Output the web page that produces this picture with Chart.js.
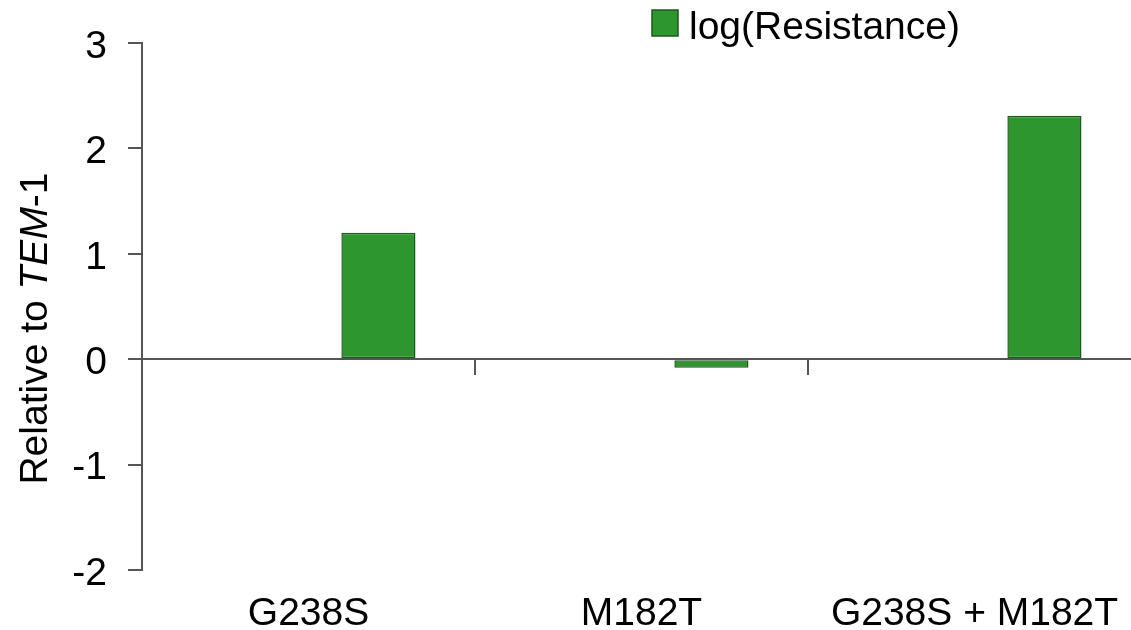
<!DOCTYPE html>
<html>
<head>
<meta charset="utf-8">
<script src="https://cdn.jsdelivr.net/npm/chart.js@4.4.0/dist/chart.umd.min.js"></script>
<style>
    html, body { margin: 0; padding: 0; background: #fff; overflow: hidden; }
    #wrap { width: 1141px; height: 630px; }
</style>
</head>
<body>
<div id="wrap"><canvas id="resChart"></canvas></div>
<script>
const categories = ['G238S', 'M182T', 'G238S + M182T'];
const emptySeries = [null, null, null]; // first series slot is empty in the figure
const logResistance = [1.2, -0.08, 2.31];
const yTicks = [-2, -1, 0, 1, 2, 3];

const fontFamily = '"Liberation Sans", Arial, sans-serif';
const fontSize = 39;
const axisColor = '#555';

// legend box and rotated y title (with italic TEM)
const extras = {
    id: 'extras',
    afterDraw(chart) {
        const c = chart.ctx;
        const ds = chart.data.datasets[1];
        c.save();
        c.fillStyle = ds.backgroundColor;
        c.strokeStyle = ds.borderColor;
        c.lineWidth = 1.5;
        c.fillRect(652, 10, 26, 26);
        c.strokeRect(652, 10, 26, 26);
        c.fillStyle = '#000';
        c.font = fontSize + 'px ' + fontFamily;
        c.textBaseline = 'alphabetic';
        c.fillText(ds.label, 689, 38.5);

        const parts = [['Relative to ', ''], ['TEM', 'italic '], ['-1', '']];
        let total = 0;
        parts.forEach(p => {
            c.font = p[1] + fontSize + 'px ' + fontFamily;
            total += c.measureText(p[0]).width;
        });
        c.translate(46.5, 328.5);
        c.rotate(-Math.PI / 2);
        let x = -total / 2;
        parts.forEach(p => {
            c.font = p[1] + fontSize + 'px ' + fontFamily;
            c.fillText(p[0], x, 0);
            x += c.measureText(p[0]).width;
        });
        c.restore();
    }
};

const ctx = document.getElementById('resChart').getContext('2d');
const resChart = new Chart(ctx, {
    type: 'bar',
    data: {
        labels: categories,
        datasets: [
            {
                label: '',
                data: emptySeries,
                backgroundColor: 'transparent'
            },
            {
                label: 'log(Resistance)',
                data: logResistance,
                backgroundColor: '#2e962e',
                borderColor: '#1e5a1e',
                borderWidth: 1.5,
                borderSkipped: false
            }
        ]
    },
    options: {
        responsive: true,
        maintainAspectRatio: false,
        animation: false,
        categoryPercentage: 0.84,
        barPercentage: 0.53,
        layout: { padding: { top: 43, left: 73, right: 0, bottom: 0 } },
        plugins: {
            legend: { display: false },
            tooltip: { enabled: false }
        },
        scales: {
            x: {
                type: 'category',
                position: { y: 0 },
                offset: true,
                afterFit: s => { s.height = 0; },
                grid: {
                    offset: true,
                    drawOnChartArea: false,
                    drawTicks: true,
                    tickLength: 15,
                    tickColor: axisColor,
                    lineWidth: 2
                },
                border: { display: true, color: axisColor, width: 2 },
                ticks: { display: false }
            },
            x2: {
                type: 'category',
                position: 'bottom',
                labels: categories,
                offset: true,
                afterFit: s => { s.height = 60; s.paddingLeft = 0; s.paddingRight = 0; },
                grid: { display: false },
                border: { display: false },
                ticks: {
                    color: '#000',
                    padding: 17,
                    maxRotation: 0,
                    font: { family: fontFamily, size: fontSize, lineHeight: 1.0 }
                }
            },
            y: {
                min: -2,
                max: 3,
                afterBuildTicks: s => { s.ticks = yTicks.map(v => ({ value: v })); },
                afterFit: s => { s.width = 69; },
                grid: {
                    drawOnChartArea: false,
                    drawTicks: true,
                    tickLength: 14,
                    tickColor: axisColor,
                    lineWidth: 2
                },
                border: { display: true, color: axisColor, width: 2 },
                ticks: {
                    color: '#000',
                    padding: 21,
                    labelOffset: 4,
                    font: { family: fontFamily, size: fontSize, lineHeight: 1.0 }
                }
            }
        }
    },
    plugins: [extras]
});
</script>
</body>
</html>
